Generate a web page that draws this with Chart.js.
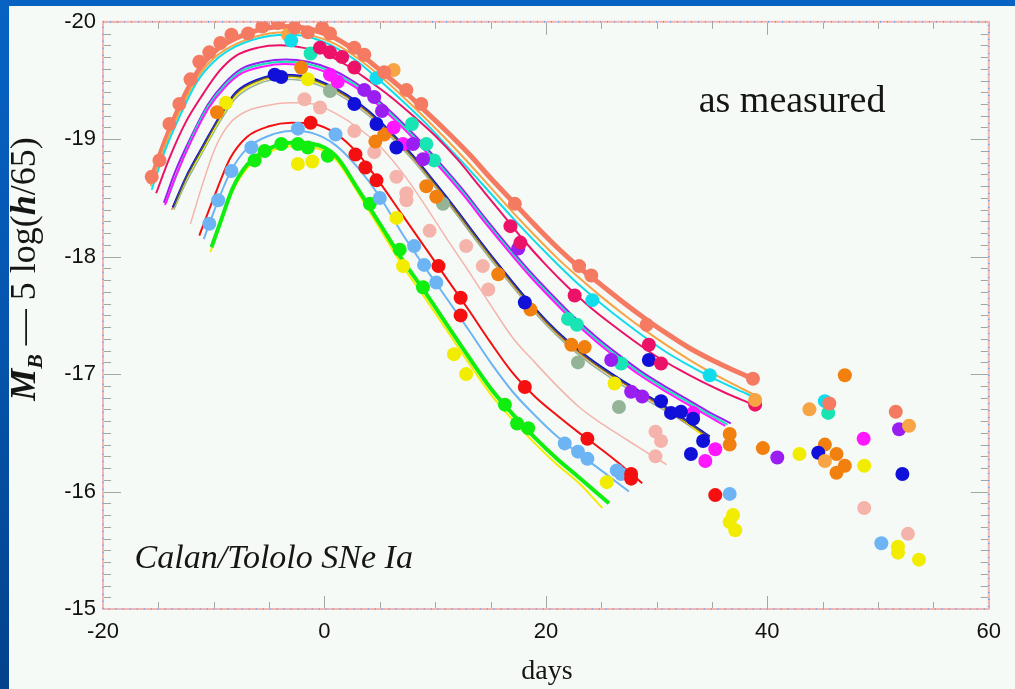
<!DOCTYPE html>
<html>
<head>
<meta charset="utf-8">
<script src="https://cdn.jsdelivr.net/npm/chart.js@4"></script>
<style>
html, body { margin: 0; padding: 0; }
body { width: 1015px; height: 689px; overflow: hidden; position: relative;
       background: linear-gradient(180deg, #0762c4 0%, #0556b0 45%, #03428c 100%); }
#panel { position: absolute; left: 9px; top: 6px; width: 1006px; height: 683px; background: #f6faf6; }
canvas { display: block; }
</style>
</head>
<body>
<div id="panel"><canvas id="c" width="1006" height="683"></canvas></div>
<script>
// light-curve fits: [day, M_B]
const salmonFit = [[-15.8,-18.62],[-14.5,-18.96],[-13,-19.30],[-11.5,-19.57],[-10,-19.74],[-8,-19.86],[-5,-19.95],[-3,-19.96],[-1,-19.93],[1,-19.86],[3,-19.74],[5,-19.59],[7,-19.43],[9,-19.25],[11,-19.07],[13,-18.88],[15,-18.67],[17,-18.47],[19,-18.27],[21,-18.08],[23,-17.91],[25,-17.76],[27,-17.61],[29,-17.47],[31,-17.34],[33,-17.22],[35,-17.12],[37,-17.03],[38.7,-16.96]];
const ltOrangeFit = [[-15.7,-18.60],[-14.5,-18.92],[-13,-19.25],[-11.5,-19.52],[-10,-19.69],[-8,-19.81],[-5,-19.90],[-3,-19.91],[-1,-19.88],[1,-19.81],[3,-19.69],[5,-19.54],[7,-19.37],[9,-19.19],[11,-19.00],[13,-18.80],[15,-18.59],[17,-18.38],[19,-18.18],[21,-17.99],[23,-17.82],[25,-17.66],[27,-17.51],[29,-17.37],[31,-17.24],[33,-17.12],[35,-17.01],[37,-16.91],[38.9,-16.82]];
const cyanFit = [[-15.6,-18.57],[-14.5,-18.88],[-13,-19.21],[-11.5,-19.49],[-10,-19.66],[-8,-19.79],[-5,-19.88],[-3,-19.89],[-1,-19.86],[1,-19.78],[3,-19.66],[5,-19.50],[7,-19.33],[9,-19.15],[11,-18.95],[13,-18.75],[15,-18.54],[17,-18.33],[19,-18.13],[21,-17.94],[23,-17.76],[25,-17.60],[27,-17.45],[29,-17.31],[31,-17.18],[33,-17.07],[35,-16.97],[37,-16.88],[38.9,-16.80]];
const crimsonFit = [[-15.2,-18.54],[-14,-18.84],[-12.5,-19.15],[-11,-19.38],[-9.5,-19.58],[-8,-19.71],[-6,-19.78],[-4,-19.80],[-2,-19.78],[0,-19.73],[2,-19.63],[4,-19.50],[6,-19.36],[8,-19.20],[10,-19.03],[12,-18.83],[14,-18.60],[16,-18.37],[18,-18.14],[20,-17.93],[22,-17.74],[24,-17.57],[26,-17.42],[28,-17.28],[30,-17.15],[32,-17.04],[34,-16.94],[36,-16.85],[38.7,-16.74]];
const purpleFit = [[-14.5,-18.46],[-13.5,-18.72],[-12,-19.03],[-10.5,-19.30],[-9,-19.48],[-7.5,-19.60],[-5.5,-19.66],[-3.5,-19.68],[-1.5,-19.66],[0.5,-19.60],[2.5,-19.50],[4.5,-19.36],[6.5,-19.19],[8.5,-19.00],[10.5,-18.79],[12.5,-18.57],[14.5,-18.33],[16.5,-18.10],[18.5,-17.88],[20.5,-17.68],[22.5,-17.49],[24.5,-17.32],[26.5,-17.17],[28.5,-17.03],[30.5,-16.91],[32.5,-16.80],[34.5,-16.69],[36.7,-16.58]];
const magentaFit = [[-14.4,-18.44],[-13.4,-18.69],[-12,-18.99],[-10.5,-19.26],[-9,-19.44],[-7.5,-19.56],[-5.5,-19.62],[-3.5,-19.64],[-1.5,-19.62],[0.5,-19.56],[2.5,-19.46],[4.5,-19.32],[6.5,-19.15],[8.5,-18.96],[10.5,-18.75],[12.5,-18.53],[14.5,-18.29],[16.5,-18.06],[18.5,-17.84],[20.5,-17.64],[22.5,-17.45],[24.5,-17.28],[26.5,-17.13],[28.5,-16.99],[30.5,-16.87],[32.5,-16.76],[34.5,-16.65],[36.2,-16.56]];
const aquaFit = [[-14.3,-18.46],[-13.3,-18.71],[-12,-19.01],[-10.5,-19.28],[-9,-19.46],[-7.5,-19.58],[-5.5,-19.64],[-3.5,-19.66],[-1.5,-19.64],[0.5,-19.58],[2.5,-19.48],[4.5,-19.34],[6.5,-19.17],[8.5,-18.98],[10.5,-18.77],[12.5,-18.55],[14.5,-18.31],[16.5,-18.08],[18.5,-17.86],[20.5,-17.66],[22.5,-17.47],[24.5,-17.30],[26.5,-17.15],[28.5,-17.01],[30.5,-16.89],[32.5,-16.78],[34.5,-16.67],[36.4,-16.57]];
const navyFit = [[-13.7,-18.42],[-12.5,-18.68],[-11,-18.94],[-9.5,-19.19],[-8,-19.40],[-6,-19.51],[-4,-19.55],[-2,-19.54],[0,-19.48],[2,-19.38],[4,-19.24],[6,-19.06],[8,-18.86],[10,-18.63],[12,-18.39],[14,-18.14],[16,-17.90],[18,-17.67],[20,-17.46],[22,-17.28],[24,-17.13],[26,-17.00],[28,-16.88],[30,-16.77],[32,-16.65],[34.8,-16.47]];
const orangeFit = [[-13.8,-18.40],[-12.5,-18.66],[-11,-18.92],[-9.5,-19.17],[-8,-19.38],[-6,-19.49],[-4,-19.53],[-2,-19.52],[0,-19.46],[2,-19.36],[4,-19.22],[6,-19.04],[8,-18.84],[10,-18.61],[12,-18.37],[14,-18.12],[16,-17.88],[18,-17.65],[20,-17.44],[22,-17.26],[24,-17.11],[26,-16.98],[28,-16.86],[30,-16.75],[32,-16.63],[34.6,-16.46]];
const grayGreenFit = [[-13.6,-18.40],[-12.5,-18.63],[-11,-18.89],[-9.5,-19.14],[-8,-19.35],[-6,-19.47],[-4,-19.51],[-2,-19.50],[0,-19.44],[2,-19.34],[4,-19.20],[6,-19.02],[8,-18.82],[10,-18.59],[12,-18.35],[14,-18.10],[16,-17.86],[18,-17.63],[20,-17.42],[22,-17.24],[24,-17.09],[26,-16.96],[28,-16.84],[30,-16.73],[32,-16.62],[34.2,-16.48]];
const yellowMidFit = [[-13.5,-18.44],[-12.5,-18.66],[-11,-18.91],[-9.5,-19.16],[-8,-19.37],[-6,-19.49],[-4,-19.53],[-2,-19.52],[0,-19.46],[2,-19.37],[4,-19.23],[6,-19.05],[8,-18.85],[10,-18.62],[12,-18.38],[14,-18.13],[16,-17.89],[18,-17.66],[20,-17.45],[22,-17.27],[24,-17.12],[26,-16.99],[28,-16.87],[30,-16.76],[32,-16.64],[34.5,-16.45]];
const darkFit = [[-13.6,-18.43],[-12.5,-18.67],[-11,-18.93],[-9.5,-19.18],[-8,-19.39],[-6,-19.50],[-4,-19.54],[-2,-19.53],[0,-19.47],[2,-19.37],[4,-19.23],[6,-19.05],[8,-18.85],[10,-18.62],[12,-18.38],[14,-18.13],[16,-17.89],[18,-17.66],[20,-17.45],[22,-17.27],[24,-17.12],[26,-16.99],[28,-16.87],[30,-16.76],[32,-16.64],[34.8,-16.46]];
const pinkFit = [[-12.1,-18.28],[-11,-18.62],[-9.8,-18.94],[-8.5,-19.14],[-7,-19.24],[-5,-19.29],[-3,-19.31],[-1,-19.30],[1,-19.22],[3,-19.10],[5,-18.94],[7,-18.72],[9,-18.45],[11,-18.16],[13,-17.88],[15,-17.59],[17,-17.31],[19,-17.10],[21,-16.90],[23,-16.72],[25,-16.58],[27,-16.46],[29,-16.34],[30.9,-16.23]];
const redFit = [[-11.3,-18.18],[-10,-18.50],[-8.5,-18.84],[-7,-19.02],[-5,-19.11],[-3,-19.14],[-1,-19.13],[1,-19.05],[3,-18.88],[5,-18.63],[7,-18.36],[9,-18.09],[11,-17.82],[13,-17.55],[15,-17.27],[17,-17.01],[19,-16.81],[21,-16.65],[23,-16.50],[25,-16.36],[27,-16.21],[28.7,-16.07]];
const ltBlueFit = [[-10.9,-18.15],[-10,-18.38],[-8.5,-18.72],[-7,-18.92],[-5,-19.03],[-3,-19.07],[-1,-19.05],[1,-18.95],[3,-18.76],[5,-18.51],[7,-18.20],[9,-17.92],[11,-17.65],[13,-17.38],[15,-17.10],[17,-16.85],[19,-16.65],[21,-16.47],[23,-16.32],[25,-16.18],[27.5,-16.00]];
const greenFit = [[-10.2,-18.08],[-9.3,-18.32],[-8.3,-18.58],[-7,-18.78],[-5,-18.92],[-3,-18.97],[-1,-18.96],[1,-18.86],[3,-18.58],[5,-18.28],[7,-17.98],[9,-17.71],[11,-17.43],[13,-17.15],[15,-16.88],[17,-16.66],[19,-16.46],[21,-16.28],[23,-16.12],[25.7,-15.90]];
const yellowFit = [[-10.3,-18.04],[-9.4,-18.28],[-8.4,-18.54],[-7,-18.75],[-5,-18.89],[-3,-18.94],[-1,-18.93],[1,-18.83],[3,-18.55],[5,-18.24],[7,-17.93],[9,-17.66],[11,-17.38],[13,-17.10],[15,-16.83],[17,-16.61],[19,-16.41],[21,-16.23],[23,-16.07],[25.1,-15.86]];

// measured points: [day, M_B]
const salmonPts = [[-15.6,-18.68],[-14.9,-18.82],[-14.0,-19.13],[-13.1,-19.30],[-12.1,-19.51],[-11.3,-19.66],[-10.4,-19.74],[-9.4,-19.82],[-8.4,-19.89],[-6.9,-19.90],[-5.6,-19.96],[-4.2,-19.99],[-2.7,-19.95],[-1.5,-19.91],[-0.2,-19.95],[0.5,-19.90],[2.7,-19.78],[3.6,-19.72],[5.4,-19.57],[7.4,-19.42],[8.75,-19.30],[17.2,-18.45],[23.0,-17.92],[24.1,-17.84],[29.1,-17.42],[38.7,-16.96],[45.6,-16.75],[51.6,-16.68]];
const cyanPts = [[-3.0,-19.84],[4.7,-19.52],[24.2,-17.63],[34.8,-16.99],[45.2,-16.77]];
const ltOrangePts = [[-3.3,-19.89],[6.25,-19.59],[38.9,-16.78],[43.8,-16.70],[52.8,-16.56],[45.2,-16.26]];
const crimsonPts = [[-0.4,-19.78],[0.5,-19.74],[1.6,-19.70],[2.7,-19.61],[16.8,-18.26],[17.7,-18.12],[22.6,-17.67],[29.3,-17.25],[30.4,-17.09],[38.9,-16.74]];
const navyPts = [[-4.5,-19.55],[-3.9,-19.53],[2.7,-19.30],[4.7,-19.13],[6.5,-18.93],[18.1,-17.61],[29.3,-17.12],[30.4,-16.77],[31.3,-16.67],[32.2,-16.68],[33.3,-16.62],[34.2,-16.43],[33.1,-16.32],[44.6,-16.33],[52.2,-16.15]];
const purplePts = [[3.6,-19.42],[4.5,-19.36],[5.2,-19.24],[8.0,-18.96],[8.9,-18.83],[17.5,-18.07],[25.9,-17.12],[27.7,-16.85],[28.7,-16.81],[40.9,-16.29],[51.9,-16.53]];
const magentaPts = [[0.5,-19.55],[1.2,-19.49],[6.25,-19.10],[7.1,-18.96],[33.3,-16.67],[35.3,-16.36],[34.4,-16.26],[48.7,-16.45]];
const aquaPts = [[-1.25,-19.73],[7.9,-19.13],[9.2,-18.96],[9.9,-18.82],[22.0,-17.47],[22.8,-17.42],[26.8,-17.09],[45.5,-16.67]];
const orangePts = [[-9.7,-19.23],[-2.1,-19.61],[4.6,-18.98],[5.4,-19.04],[9.2,-18.60],[10.1,-18.51],[15.7,-17.85],[18.6,-17.55],[22.3,-17.25],[23.5,-17.23],[36.6,-16.49],[36.6,-16.40],[39.6,-16.37],[45.2,-16.40],[46.25,-16.32],[47.0,-16.22],[46.25,-16.16],[47.0,-16.99]];
const grayGreenPts = [[0.5,-19.41],[10.7,-18.45],[22.9,-17.10],[26.6,-16.72]];
const yellowPts = [[-8.9,-19.31],[-2.4,-18.79],[-1.1,-18.81],[-1.5,-19.51],[6.5,-18.33],[7.1,-17.92],[11.7,-17.17],[12.8,-17.00],[26.2,-16.92],[25.5,-16.08],[36.9,-15.80],[36.6,-15.74],[37.1,-15.67],[42.9,-16.32],[48.75,-16.22],[51.8,-15.53],[51.8,-15.48],[53.7,-15.42]];
const greenPts = [[-6.3,-18.82],[-5.4,-18.90],[-3.9,-18.96],[-2.4,-18.96],[-1.5,-18.93],[0.3,-18.86],[4.1,-18.45],[6.8,-18.06],[8.9,-17.74],[16.3,-16.74],[17.4,-16.58],[18.4,-16.54]];
const ltBluePts = [[-10.4,-18.28],[-9.6,-18.48],[-8.4,-18.73],[-6.6,-18.93],[-2.4,-19.09],[1.0,-19.04],[5.0,-18.50],[8.1,-18.09],[9.0,-17.93],[10.1,-17.78],[21.7,-16.41],[22.9,-16.34],[23.75,-16.28],[26.4,-16.18],[26.8,-16.15],[36.6,-15.98],[50.3,-15.56]];
const redPts = [[-1.25,-19.14],[2.8,-18.87],[3.7,-18.76],[4.7,-18.65],[10.3,-17.92],[12.3,-17.65],[12.3,-17.50],[18.1,-16.89],[23.75,-16.45],[27.7,-16.15],[27.7,-16.11],[35.3,-15.97]];
const pinkPts = [[-1.8,-19.34],[-0.4,-19.27],[2.7,-19.07],[4.5,-18.89],[6.5,-18.68],[7.4,-18.54],[7.4,-18.48],[9.5,-18.22],[12.8,-18.09],[14.3,-17.92],[14.8,-17.72],[29.9,-16.51],[30.4,-16.43],[29.9,-16.30],[48.75,-15.86],[52.7,-15.64]];

const xTicks = [-20, 0, 20, 40, 60];
const yTicks = [-20, -19, -18, -17, -16, -15];

const C = {
  salmon: '#f47a62', ltOrange: '#f6a444', cyan: '#10dcec', crimson: '#ec1268',
  purple: '#9a1ef0', magenta: '#ff18ff', aqua: '#18e4b4', navy: '#1010d8',
  orange: '#f2800e', grayGreen: '#94b498', yellow: '#f2ec00', dark: '#4c5258',
  pink: '#f4b4ac', red: '#f41010', ltBlue: '#6cb4f4', green: '#10ee10'
};

function fit(data, color, width, order) {
  return { data: data.map(([x, y]) => ({ x, y })), showLine: true, borderColor: color,
           borderWidth: width, pointRadius: 0, cubicInterpolationMode: 'monotone', order: order || 2 };
}
function pts(data, color) {
  return { data: data.map(([x, y]) => ({ x, y })), showLine: false, backgroundColor: color,
           borderColor: color, borderWidth: 0, pointRadius: 7, order: 1 };
}

const datasets = [
  pts(salmonPts, C.salmon), pts(cyanPts, C.cyan), pts(ltOrangePts, C.ltOrange),
  pts(crimsonPts, C.crimson), pts(navyPts, C.navy), pts(purplePts, C.purple),
  pts(magentaPts, C.magenta), pts(aquaPts, C.aqua), pts(orangePts, C.orange),
  pts(grayGreenPts, C.grayGreen), pts(pinkPts, C.pink), pts(redPts, C.red),
  pts(ltBluePts, C.ltBlue), pts(yellowPts, C.yellow), pts(greenPts, C.green),
  fit(greenFit, C.green, 4), fit(yellowFit, C.yellow, 2), fit(ltBlueFit, C.ltBlue, 2),
  fit(redFit, C.red, 2), fit(pinkFit, C.pink, 1.5),
  fit(darkFit, C.dark, 1.5), fit(navyFit, C.navy, 2), fit(yellowMidFit, C.yellow, 1.5),
  fit(orangeFit, C.orange, 1.5), fit(grayGreenFit, C.grayGreen, 1.5),
  fit(magentaFit, C.magenta, 2), fit(aquaFit, C.aqua, 2), fit(purpleFit, C.purple, 2),
  fit(crimsonFit, C.crimson, 2), fit(cyanFit, C.cyan, 2), fit(ltOrangeFit, C.ltOrange, 2),
  fit(salmonFit, C.salmon, 5, 3)
];

// frame with inward ticks on all four sides, plus the text labels
const frame = {
  id: 'frame',
  beforeDatasetsDraw(chart) {
    const { ctx, chartArea: a, scales: { x, y } } = chart;
    ctx.save();
    ctx.strokeStyle = '#9eaa9e';
    ctx.lineWidth = 1;
    ctx.beginPath();
    for (let d = -20; d <= 60; d += 5) {
      const px = Math.round(x.getPixelForValue(d)) + 0.5;
      const len = xTicks.includes(d) ? 13 : 7;
      ctx.moveTo(px, a.bottom); ctx.lineTo(px, a.bottom - len);
      ctx.moveTo(px, a.top); ctx.lineTo(px, a.top + len);
    }
    for (let i = 0; i <= 50; i++) {
      const py = Math.round(y.getPixelForValue(-20 + i / 10)) + 0.5;
      const len = i % 10 === 0 ? 18 : 8;
      ctx.moveTo(a.left, py); ctx.lineTo(a.left + len, py);
      ctx.moveTo(a.right, py); ctx.lineTo(a.right - len, py);
    }
    ctx.stroke();
    ctx.strokeStyle = '#f2b8b8';
    ctx.lineWidth = 2;
    ctx.strokeRect(a.left, a.top, a.right - a.left, a.bottom - a.top);
    ctx.setLineDash([1, 6]);
    ctx.strokeStyle = '#5c9ef0';
    ctx.lineWidth = 1.5;
    ctx.strokeRect(a.left, a.top, a.right - a.left, a.bottom - a.top);
    ctx.restore();
  },
  afterDraw(chart) {
    const { ctx, scales: { x, y } } = chart;
    ctx.save();
    ctx.fillStyle = '#151515';
    ctx.textBaseline = 'alphabetic';
    ctx.font = '38px "Liberation Serif"';
    ctx.fillText('as measured', x.getPixelForValue(33.8), y.getPixelForValue(-19.23));
    ctx.font = 'italic 34px "Liberation Serif"';
    ctx.fillText('Calan/Tololo SNe Ia', x.getPixelForValue(-17.15), y.getPixelForValue(-15.35));
    ctx.font = '28px "Liberation Serif"';
    ctx.textAlign = 'center';
    ctx.fillText('days', 538, 673);
    // y-axis title, rotated
    ctx.textAlign = 'left';
    const segs = [
      ['M', 'italic bold 36px "Liberation Serif"', 0],
      ['B', 'italic bold 22px "Liberation Serif"', 7],
      [' \u2014 5 log(', '36px "Liberation Serif"', 0],
      ['h', 'italic bold 36px "Liberation Serif"', 0],
      ['/65)', '36px "Liberation Serif"', 0]
    ];
    let total = 0;
    segs.forEach(s => { ctx.font = s[1]; total += ctx.measureText(s[0]).width; });
    ctx.translate(26, 263);
    ctx.rotate(-Math.PI / 2);
    let cx = -total / 2;
    segs.forEach(s => { ctx.font = s[1]; ctx.fillText(s[0], cx, s[2]); cx += ctx.measureText(s[0]).width; });
    ctx.restore();
  }
};

new Chart(document.getElementById('c'), {
  type: 'scatter',
  data: { datasets },
  options: {
    responsive: false,
    animation: false,
    layout: { padding: { left: 0, right: 16, top: 9, bottom: 0 } },
    plugins: { legend: { display: false }, tooltip: { enabled: false } },
    scales: {
      x: {
        type: 'linear', min: -20, max: 60,
        afterBuildTicks: s => { s.ticks = xTicks.map(v => ({ value: v })); },
        ticks: { color: '#111', font: { family: 'Liberation Sans', size: 22, lineHeight: 0.8 }, padding: 14, maxRotation: 0 },
        grid: { display: false, drawTicks: false },
        border: { display: false },
        afterFit: s => { s.height = 80; }
      },
      y: {
        type: 'linear', min: -20, max: -15, reverse: true,
        afterBuildTicks: s => { s.ticks = yTicks.map(v => ({ value: v })); },
        ticks: { color: '#111', font: { family: 'Liberation Sans', size: 22, lineHeight: 0.8 }, padding: 7 },
        grid: { display: false, drawTicks: false },
        border: { display: false },
        afterFit: s => { s.width = 94; }
      }
    }
  },
  plugins: [frame]
});
</script>
</body>
</html>
